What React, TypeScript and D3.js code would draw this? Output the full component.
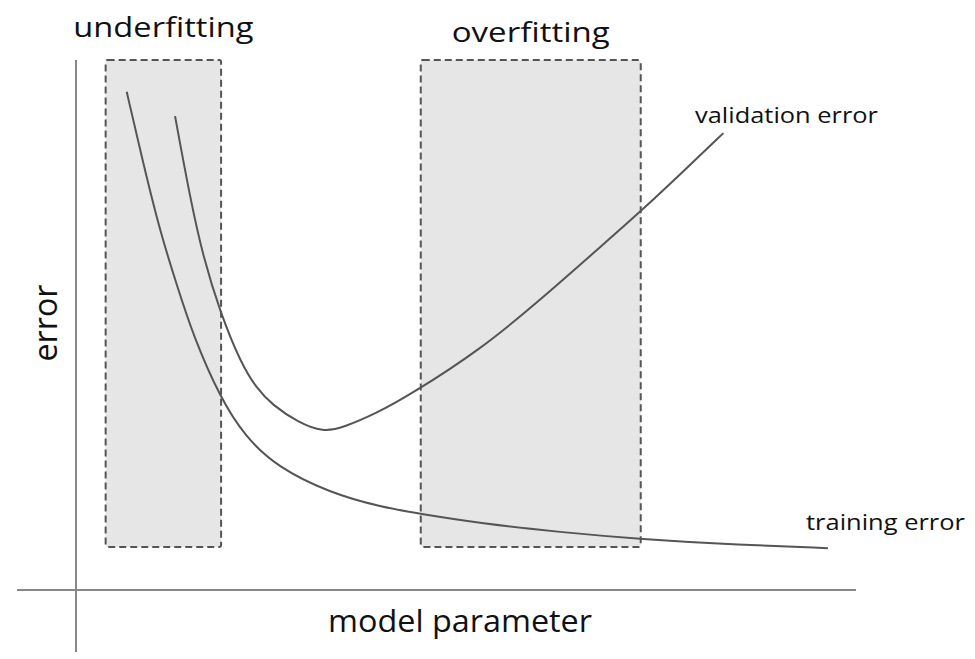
import { useRef, useEffect } from 'react';
import * as d3 from 'd3';

// model parameter (x) vs error (y) in 0..100 units
const trainingX = [6.5, 8.6, 10.8, 13.0, 15.0, 18.5, 21.7, 25.8, 32.6, 39.0, 44.4, 51.8, 62.1, 72.3, 85.1, 96.4];
const trainingY = [94.0, 80.6, 67.5, 57.2, 48.1, 36.2, 28.9, 23.2, 18.3, 15.7, 14.3, 12.6, 10.9, 9.6, 8.5, 7.9];

const validationX = [12.7, 14.6, 16.3, 18.5, 21.2, 23.2, 25.1, 28.5, 31.7, 34.2, 38.6, 42.8, 51.8, 59.5, 67.2, 72.6, 77.8, 83.0];
const validationY = [89.4, 74.2, 62.8, 52.3, 42.6, 38.0, 35.0, 31.6, 29.8, 30.6, 33.4, 36.8, 45.3, 54.7, 64.7, 71.7, 78.9, 86.2];

const regionNames = ['underfitting', 'overfitting'];
const regionStart = [3.8, 44.2];
const regionEnd = [18.6, 72.4];
const regionBottom = 8.1;
const regionTop = 100;

const FONT = '"Open Sans", "Noto Sans", "DejaVu Sans", sans-serif';

export default function App() {
    const ref = useRef<SVGSVGElement | null>(null);

    useEffect(() => {
        if (!ref.current) return;
        const svg = d3.select(ref.current);
        svg.selectAll('*').remove();

        const x = d3.scaleLinear().domain([0, 100]).range([76, 856]);
        const y = d3.scaleLinear().domain([0, 100]).range([590, 60]);

        const label = (t: string, size: number, len: number) =>
            svg
                .append('text')
                .attr('font-family', FONT)
                .attr('font-size', size)
                .attr('fill', '#111')
                .attr('textLength', len)
                .attr('lengthAdjust', 'spacingAndGlyphs')
                .text(t);

        // shaded regions
        const regionWidths = [180, 158];
        regionNames.forEach((name, i) => {
            svg
                .append('rect')
                .attr('x', x(regionStart[i]))
                .attr('y', y(regionTop))
                .attr('width', x(regionEnd[i]) - x(regionStart[i]))
                .attr('height', y(regionBottom) - y(regionTop))
                .attr('rx', 2)
                .attr('fill', '#e6e6e6')
                .attr('stroke', '#555')
                .attr('stroke-width', 2)
                .attr('stroke-dasharray', '7,4');
            label(name, 27, regionWidths[i])
                .attr('x', (x(regionStart[i]) + x(regionEnd[i])) / 2 - regionWidths[i] / 2)
                .attr('y', i === 0 ? 37 : 42);
        });

        // axes
        svg
            .append('line')
            .attr('x1', x(0))
            .attr('x2', x(0))
            .attr('y1', y(100))
            .attr('y2', 652)
            .attr('stroke', '#888')
            .attr('stroke-width', 2);
        svg
            .append('line')
            .attr('x1', 17)
            .attr('x2', x(100))
            .attr('y1', y(0))
            .attr('y2', y(0))
            .attr('stroke', '#888')
            .attr('stroke-width', 2);

        const path = d3.line().curve(d3.curveBasis);
        const trainPts = trainingX.map((v, i) => [x(v), y(trainingY[i])] as [number, number]);
        const valPts = validationX.map((v, i) => [x(v), y(validationY[i])] as [number, number]);

        [trainPts, valPts].forEach((pts) => {
            svg
                .append('path')
                .attr('d', path(pts))
                .attr('fill', 'none')
                .attr('stroke', '#555')
                .attr('stroke-width', 2);
        });

        // labels
        label('validation error', 22, 183).attr('x', 695).attr('y', 123);
        label('training error', 22, 159).attr('x', 806).attr('y', 530);
        label('model parameter', 31, 264).attr('x', 328).attr('y', 632);
        label('error', 32, 77)
            .attr('x', -77 / 2)
            .attr('transform', 'translate(57,323) rotate(-90)');
    }, []);

    return (
        <svg
            ref={ref}
            width={975}
            height={659}
            style={{ position: 'absolute', left: 0, top: 0, background: '#fff' }}
        />
    );
}
